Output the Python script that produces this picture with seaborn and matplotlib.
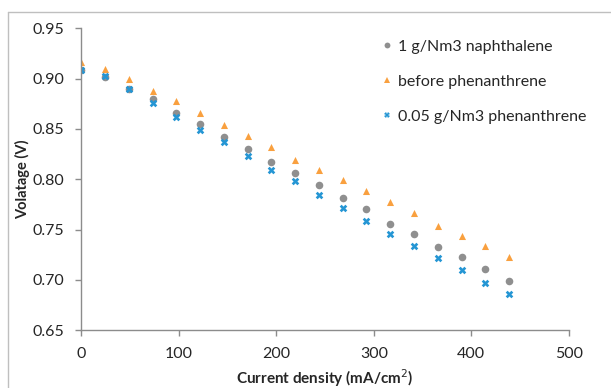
import pandas as pd
import matplotlib.pyplot as plt
import seaborn as sns
from matplotlib.lines import Line2D

## Data
current = [0, 24.4, 48.8, 73.1, 97.5, 121.9, 146.3, 170.6, 195, 219.4,
           243.8, 268.1, 292.5, 316.9, 341.3, 365.6, 390, 414.4, 438.8]
naphthalene = [0.909, 0.902, 0.890, 0.880, 0.866, 0.855, 0.842, 0.830, 0.817, 0.806,
               0.794, 0.781, 0.770, 0.756, 0.746, 0.733, 0.723, 0.711, 0.699]
before_phen = [0.917, 0.910, 0.900, 0.888, 0.878, 0.866, 0.854, 0.843, 0.832, 0.819,
               0.809, 0.799, 0.788, 0.777, 0.766, 0.754, 0.744, 0.734, 0.723]
phenanthrene = [0.909, 0.903, 0.890, 0.876, 0.862, 0.849, 0.837, 0.823, 0.809, 0.798,
                0.784, 0.771, 0.759, 0.746, 0.734, 0.722, 0.710, 0.697, 0.686]
series = ['1 g/Nm3 naphthalene', 'before phenanthrene', '0.05 g/Nm3 phenanthrene']
x_ticks = [0, 100, 200, 300, 400, 500]
y_ticks = [0.65, 0.70, 0.75, 0.80, 0.85, 0.90, 0.95]

# Long-form table
df = pd.concat([
    pd.DataFrame({'current': current, 'voltage': v, 'series': s})
    for v, s in zip([naphthalene, before_phen, phenanthrene], series)
])

## Style
sns.set_theme(style='white')
plt.rcParams['font.family'] = ['Lato', 'DejaVu Sans']

colors = {series[0]: '#8f8f8f', series[1]: '#f9a03f', series[2]: '#2596d4'}
markers = {series[0]: 'o', series[1]: '^', series[2]: 'X'}
sizes = {series[0]: 30, series[1]: 26, series[2]: 30}

fig = plt.figure(figsize=(6.11, 3.88), dpi=100)
ax = fig.add_axes([0.133, 0.149, 0.798, 0.778])

for s in series:
    d = df[df['series'] == s]
    sns.scatterplot(ax=ax, data=d, x='current', y='voltage', color=colors[s],
                    marker=markers[s], s=sizes[s], linewidth=0, legend=False)

ax.set_xlim(0, 500)
ax.set_ylim(0.65, 0.95)
ax.set_xticks(x_ticks)
ax.set_yticks(y_ticks)
ax.set_xticklabels([str(t) for t in x_ticks], fontsize=11.5)
ax.set_yticklabels(['{:.2f}'.format(t) for t in y_ticks], fontsize=11.5)

for side in ['top', 'right']:
    ax.spines[side].set_visible(False)
for side in ['left', 'bottom']:
    ax.spines[side].set_color('#8c8c8c')
    ax.spines[side].set_linewidth(1.0)
ax.tick_params(axis='both', which='both', direction='out', length=4, width=1,
               color='#8c8c8c', labelcolor='#262626', left=True, bottom=True)
ax.tick_params(axis='y', pad=8)
ax.tick_params(axis='x', pad=8)

ax.set_xlabel('Current density (mA/cm$^2$)', fontsize=11, fontweight='bold', labelpad=5)
ax.set_ylabel('Volatage (V)', fontsize=10.5, fontweight='bold', labelpad=2)

# Legend
handles = [Line2D([], [], linestyle='none', marker=markers[s], color=colors[s],
                  markersize=4.2, markeredgewidth=0) for s in series]
ax.legend(handles, series, loc='upper right', bbox_to_anchor=(1.065, 1.01), frameon=False,
          fontsize=11.5, labelspacing=1.3, handletextpad=0.2, handlelength=1.0)

# Chart area border
fig.add_artist(Line2D([8/611, 8/611], [0, 1 - 12/388], color='#bfbfbf', lw=1))
fig.add_artist(Line2D([8/611, 1], [1 - 12/388, 1 - 12/388], color='#bfbfbf', lw=1))

plt.savefig('out.png', dpi=100)
